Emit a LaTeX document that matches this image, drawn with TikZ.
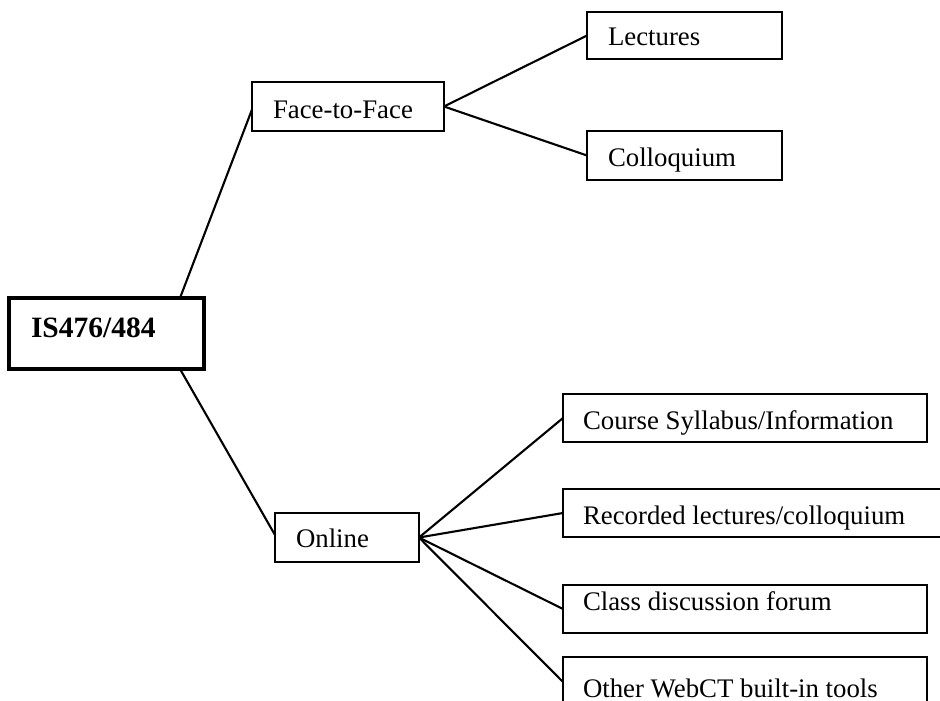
\documentclass[tikz,border=0pt]{standalone}
\usepackage{fontspec}
\setmainfont{Liberation Serif}
\begin{document}
\begin{tikzpicture}[x=1pt,y=-1pt,
  box/.style={draw=black, line width=2pt, inner sep=0pt, outer sep=0pt, anchor=north west, rectangle},
  rootbox/.style={box, line width=3.4pt},
  txt/.style={anchor=base west, inner sep=0pt, outer sep=0pt, font=\fontsize{26.8}{31}\selectfont},
  roottxt/.style={txt, font=\fontsize{29.5}{34}\selectfont\bfseries},
  link/.style={draw=black, line width=2.1pt}]
\useasboundingbox (0,0) rectangle (940,701);
\clip (0,0) rectangle (940,701);
% boxes
\node[rootbox, minimum width=195pt, minimum height=71pt] (is) at (9,298) {};
\node[box, minimum width=192pt, minimum height=49pt] (ftf) at (252,82) {};
\node[box, minimum width=195pt, minimum height=47pt] (lec) at (587,12) {};
\node[box, minimum width=195pt, minimum height=49pt] (col) at (587,131) {};
\node[box, minimum width=144pt, minimum height=49pt] (onl) at (275,513) {};
\node[box, minimum width=364pt, minimum height=48pt] (crs) at (563,394) {};
\node[box, minimum width=385pt, minimum height=48pt] (rec) at (563,489) {};
\node[box, minimum width=364pt, minimum height=48pt] (cls) at (563,585) {};
\node[box, minimum width=364pt, minimum height=50pt] (oth) at (563,657) {};
% texts
\node[roottxt] (tis) at (31,337) {IS476/484};
\node[txt] (tftf) at (273,118) {Face-to-Face};
\node[txt] (tlec) at (608,46) {Lectures};
\node[txt] (tcol) at (608,166) {Colloquium};
\node[txt] (tonl) at (296,547) {Online};
\node[txt] (tcrs) at (583,429) {Course Syllabus/Information};
\node[txt] (trec) at (583,524) {Recorded lectures/colloquium};
\node[txt] (tcls) at (583,610) {Class discussion forum};
\node[txt] (toth) at (583,697) {Other WebCT built-in tools};
% connectors
\draw[link] ([xshift=-24pt]is.north east) -- ([yshift=-3pt]ftf.west);
\draw[link] ([xshift=-24pt]is.south east) -- ([yshift=2.5pt]onl.west);
\draw[link] (ftf.east) -- (lec.west);
\draw[link] (ftf.east) -- (col.west);
\draw[link] (onl.east) -- (crs.west);
\draw[link] (onl.east) -- (rec.west);
\draw[link] (onl.east) -- (cls.west);
\draw[link] (onl.east) -- (oth.west);
\end{tikzpicture}
\end{document}
